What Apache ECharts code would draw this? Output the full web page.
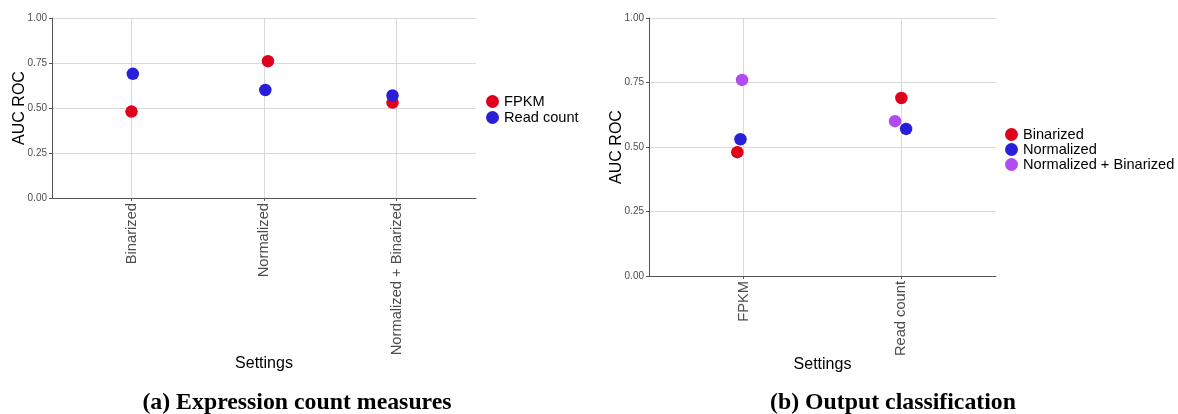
<!DOCTYPE html>
<html>
<head>
<meta charset="utf-8">
<script src="https://cdn.jsdelivr.net/npm/echarts@6/dist/echarts.min.js"></script>
<style>
  html, body { margin: 0; padding: 0; background: #fff; }
  #chart { width: 1178px; height: 414px; }
</style>
</head>
<body>
<div id="chart"></div>
<script>
// (a) 表达量度量
const catsA = ['Binarized', 'Normalized', 'Normalized + Binarized']
const fpkmA = [0.48, 0.76, 0.53]
const fpkmXA = [1.00, 2.03, 2.97]      // jitter position along x
const readA = [0.69, 0.60, 0.57]
const readXA = [1.01, 2.01, 2.97]

// (b) 输出分类
const catsB = ['FPKM', 'Read count']
const binB = [0.48, 0.69]
const binXB = [0.96, 2.00]
const normB = [0.53, 0.57]
const normXB = [0.98, 2.03]
const nbB = [0.76, 0.60]
const nbXB = [0.99, 1.96]

const yTicks = [0, 0.25, 0.5, 0.75, 1]

const SANS = 'Liberation Sans'
const RED = '#e0001b'
const BLUE = '#2a1fd9'
const PURPLE = '#b04cf0'

function pairs(xs, ys) {
    let out = new Array
    for (let i = 0; i < ys.length; i++) {
        out.push([xs[i], ys[i]])
    }
    return out
}

function makeX(cats, gridIndex, nameGap) {
    const idx = cats.map((c, i) => i + 1)
    return {
        type: 'value',
        gridIndex: gridIndex,
        min: 0.4,
        max: cats.length + 0.6,
        name: 'Settings',
        nameLocation: 'middle',
        nameGap: nameGap,
        nameMoveOverlap: false,
        nameTextStyle: { fontFamily: SANS, fontSize: 16, color: '#000', verticalAlign: 'top' },
        axisLine: { show: true, lineStyle: { color: '#555', width: 1 } },
        axisTick: { show: true, customValues: idx, length: 3, lineStyle: { color: '#555' } },
        axisLabel: {
            customValues: idx,
            rotate: 90,
            margin: 5,
            fontFamily: SANS,
            fontSize: 14.7,
            color: '#4d4d4d',
            formatter: v => cats[Math.round(v) - 1] || ''
        },
        splitLine: { show: true, lineStyle: { color: '#d9d9d9', width: 1 } }
    }
}

function makeY(gridIndex) {
    return {
        type: 'value',
        gridIndex: gridIndex,
        min: yTicks[0],
        max: yTicks[yTicks.length - 1],
        interval: 0.25,
        name: 'AUC ROC',
        nameLocation: 'middle',
        nameGap: 24,
        nameMoveOverlap: false,
        nameTextStyle: { fontFamily: SANS, fontSize: 16, color: '#000' },
        axisLine: { show: true, lineStyle: { color: '#555', width: 1 } },
        axisTick: { show: true, length: 3, lineStyle: { color: '#555' } },
        axisLabel: {
            margin: 5,
            fontFamily: SANS,
            fontSize: 10,
            color: '#4d4d4d',
            formatter: v => v.toFixed(2)
        },
        splitLine: { show: true, lineStyle: { color: '#d9d9d9', width: 1 } }
    }
}

function dots(name, color, xs, ys, gridIdx) {
    return {
        name: name,
        type: 'scatter',
        xAxisIndex: gridIdx,
        yAxisIndex: gridIdx,
        symbolSize: 12.5,
        itemStyle: { color: color, opacity: 1 },
        emphasis: { disabled: true },
        data: pairs(xs, ys)
    }
}

const legendText = { fontFamily: SANS, fontSize: 14.6, color: '#000', lineHeight: 15 }

const option = {
    animation: false,
    backgroundColor: '#fff',
    grid: [
        { left: 52, top: 18, width: 424, height: 180 },
        { left: 649, top: 18, width: 347, height: 258 }
    ],
    xAxis: [makeX(catsA, 0, 158), makeX(catsB, 1, 81)],
    yAxis: [makeY(0), makeY(1)],
    legend: [
        {
            data: ['FPKM', 'Read count'],
            orient: 'vertical',
            left: 486, top: 94,
            icon: 'circle',
            itemWidth: 13, itemHeight: 13, itemGap: 1,
            padding: 0,
            textStyle: legendText
        },
        {
            data: ['Binarized', 'Normalized', 'Normalized + Binarized'],
            orient: 'vertical',
            left: 1005, top: 127,
            icon: 'circle',
            itemWidth: 13, itemHeight: 13, itemGap: 0,
            padding: 0,
            textStyle: legendText
        }
    ],
    series: [
        dots('FPKM', RED, fpkmXA, fpkmA, 0),
        dots('Read count', BLUE, readXA, readA, 0),
        dots('Binarized', RED, binXB, binB, 1),
        dots('Normalized', BLUE, normXB, normB, 1),
        dots('Normalized + Binarized', PURPLE, nbXB, nbB, 1)
    ],
    graphic: [
        {
            type: 'text', x: 297, y: 403,
            style: { text: '(a) Expression count measures', font: 'bold 23.8px "Liberation Serif"', fill: '#000', align: 'center', verticalAlign: 'middle' }
        },
        {
            type: 'text', x: 893, y: 403,
            style: { text: '(b) Output classification', font: 'bold 23.8px "Liberation Serif"', fill: '#000', align: 'center', verticalAlign: 'middle' }
        }
    ]
}

let chart = echarts.init(document.getElementById('chart'))
chart.setOption(option)
</script>
</body>
</html>
